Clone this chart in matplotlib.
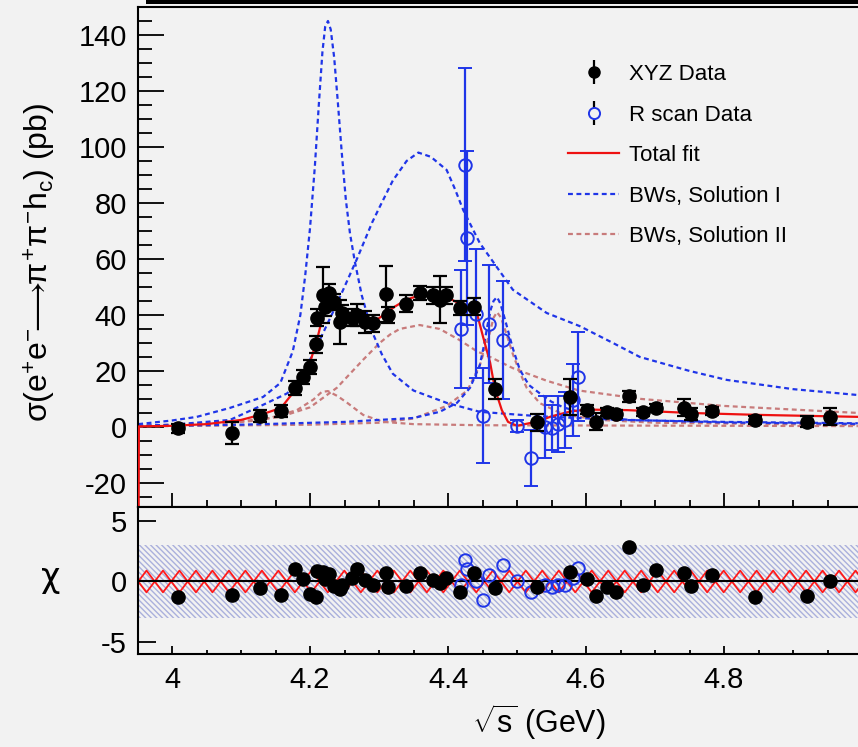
import matplotlib
matplotlib.use('Agg')
import matplotlib.pyplot as plt
import numpy as np
from matplotlib.lines import Line2D
from matplotlib.patches import Rectangle
from matplotlib.legend_handler import HandlerTuple
from matplotlib.ticker import MultipleLocator, FuncFormatter

plt.rcParams['font.family'] = ['Liberation Sans', 'DejaVu Sans']
plt.rcParams['mathtext.fontset'] = 'custom'
plt.rcParams['mathtext.rm'] = 'Liberation Sans'
plt.rcParams['mathtext.it'] = 'Liberation Sans'
plt.rcParams['mathtext.bf'] = 'Liberation Sans:bold'
plt.rcParams['axes.unicode_minus'] = False
plt.rcParams['hatch.linewidth'] = 1.0

# XYZ data: energy, cross section, error, chi
xyz_e = [4.009, 4.087, 4.128, 4.158, 4.178, 4.190, 4.200, 4.208, 4.210, 4.219, 4.222,
         4.228, 4.235, 4.243, 4.247, 4.261, 4.268, 4.280, 4.291, 4.310, 4.313, 4.339,
         4.359, 4.378, 4.388, 4.397, 4.417, 4.438, 4.468, 4.529, 4.577, 4.601, 4.614,
         4.630, 4.643, 4.662, 4.683, 4.701, 4.742, 4.752, 4.783, 4.845, 4.920, 4.954]
xyz_sig = [-0.5, -2.1, 3.9, 5.7, 14.0, 18.0, 21.5, 29.5, 39.0, 47.0, 42.8,
           48.0, 44.6, 37.5, 40.7, 39.0, 40.0, 37.5, 37.0, 47.5, 40.0, 44.0,
           48.0, 47.0, 45.5, 47.0, 42.5, 43.0, 13.5, 1.6, 10.7, 6.2, 1.8,
           5.3, 4.6, 11.0, 5.3, 6.8, 6.8, 4.6, 5.7, 2.5, 1.8, 3.6]
xyz_err = [1.5, 4.0, 2.0, 2.0, 2.5, 2.5, 2.5, 3.0, 3.0, 10.0, 3.0,
           3.0, 3.0, 8.0, 3.0, 3.0, 4.0, 4.0, 3.0, 10.0, 3.0, 3.0,
           2.5, 3.0, 8.5, 3.0, 2.5, 3.0, 3.5, 3.0, 6.5, 1.5, 3.0,
           1.5, 1.5, 2.0, 1.5, 1.5, 3.0, 2.0, 1.5, 1.5, 2.0, 3.0]
xyz_chi = [-1.3, -1.1, -0.55, -1.1, 1.0, 0.2, -1.0, -1.3, 0.9, 0.8, 0.2,
           0.6, -0.4, -0.6, -0.3, 0.3, 1.0, 0.1, -0.3, 0.7, -0.45, -0.4,
           0.7, 0.1, -0.1, 0.3, -0.85, 0.7, -0.55, -0.45, 0.8, 0.2, -1.2,
           -0.45, -0.85, 2.85, -0.3, 0.95, 0.7, -0.4, 0.55, -1.3, -1.2, 0.0]

# R scan data
rs_e = [4.419, 4.424, 4.428, 4.441, 4.450, 4.459, 4.480, 4.500, 4.520, 4.541,
        4.551, 4.560, 4.569, 4.581, 4.589]
rs_sig = [35.0, 93.6, 67.5, 40.5, 4.0, 36.8, 31.0, 0.3, -11.2, 0.0,
          -0.3, 1.0, 2.5, 9.6, 18.0]
rs_err = [21.0, 34.5, 31.0, 23.0, 17.0, 21.0, 21.0, 2.0, 10.0, 11.0,
          8.0, 10.0, 10.0, 13.0, 16.0]
rs_chi = [-0.3, 1.8, 1.0, 0.0, -1.5, 0.55, 1.35, 0.0, -0.9, -0.3,
          -0.45, -0.3, -0.3, 0.3, 1.1]

# total fit
fit_e = [3.9515, 3.952, 4.0, 4.05, 4.1, 4.128, 4.158, 4.178, 4.19, 4.2, 4.21, 4.218,
         4.225, 4.232, 4.24, 4.25, 4.265, 4.28, 4.294, 4.301, 4.323, 4.34, 4.359,
         4.38, 4.398, 4.417, 4.432, 4.442, 4.451, 4.461, 4.468, 4.478, 4.487, 4.5,
         4.519, 4.529, 4.55, 4.577, 4.6, 4.66, 4.75, 4.85, 4.994]
fit_sig = [-40.0, 0.2, 0.4, 1.0, 2.5, 4.3, 6.8, 13.0, 17.5, 23.0, 31.0, 39.0,
           43.0, 45.0, 44.0, 41.5, 39.0, 38.0, 38.0, 39.0, 43.0, 45.5, 47.0,
           47.0, 46.4, 44.0, 43.0, 40.5, 32.0, 23.0, 13.6, 6.0, 1.8, 0.4,
           1.4, 1.8, 3.8, 5.5, 6.2, 6.0, 5.0, 4.3, 3.6]

# Solution I components
s1a_e = [3.951, 4.0, 4.036, 4.084, 4.132, 4.157, 4.175, 4.186, 4.193, 4.2, 4.207,
         4.213, 4.218, 4.222, 4.226, 4.23, 4.235, 4.24, 4.246, 4.252, 4.258, 4.265,
         4.275, 4.29, 4.304, 4.32, 4.35, 4.398, 4.446, 4.533, 4.65, 4.8, 4.994]
s1a_sig = [1.0, 2.3, 3.6, 6.8, 10.7, 15.7, 27.0, 40.0, 54.0, 71.0, 93.0,
           116.0, 134.0, 143.0, 145.0, 142.0, 132.0, 117.0, 98.0, 81.0, 69.0, 59.0,
           47.0, 34.0, 26.0, 19.0, 13.0, 8.6, 5.4, 3.8, 2.5, 1.8, 1.3]
s1b_e = [3.951, 4.0, 4.084, 4.132, 4.167, 4.19, 4.214, 4.239, 4.268, 4.29, 4.301,
         4.32, 4.34, 4.357, 4.375, 4.398, 4.41, 4.422, 4.446, 4.471, 4.494, 4.543,
         4.591, 4.639, 4.678, 4.75, 4.804, 4.9, 4.994]
s1b_sig = [0.4, 0.8, 2.5, 7.9, 12.0, 19.0, 31.0, 44.0, 60.0, 73.0, 78.6,
           88.0, 95.0, 98.0, 96.5, 91.8, 85.0, 77.5, 65.7, 57.0, 49.0, 40.7,
           36.0, 30.0, 25.0, 20.0, 16.8, 13.5, 11.4]
s1c_e = [3.951, 4.1, 4.25, 4.35, 4.388, 4.413, 4.432, 4.446, 4.452, 4.457, 4.462,
         4.466, 4.471, 4.476, 4.483, 4.494, 4.504, 4.517, 4.533, 4.55, 4.567, 4.616,
         4.664, 4.8, 4.994]
s1c_sig = [0.3, 0.8, 1.8, 3.2, 5.4, 8.6, 14.0, 22.0, 29.0, 36.0, 42.0,
           45.0, 46.4, 44.0, 38.0, 28.0, 20.5, 15.0, 12.0, 9.0, 7.0, 3.6,
           2.5, 1.6, 1.1]

# Solution II components
s2a_e = [3.951, 4.084, 4.132, 4.181, 4.205, 4.217, 4.226, 4.24, 4.254, 4.277, 4.306,
         4.35, 4.45, 4.994]
s2a_sig = [0.3, 1.4, 2.5, 6.0, 9.8, 12.5, 12.8, 11.0, 8.6, 4.3, 1.8,
           1.0, 0.6, 0.3]
s2b_e = [3.951, 4.0, 4.1, 4.157, 4.2, 4.239, 4.277, 4.301, 4.316, 4.33, 4.359,
         4.388, 4.417, 4.442, 4.461, 4.494, 4.543, 4.59, 4.68, 4.8, 4.994]
s2b_sig = [0.3, 0.8, 2.0, 3.6, 7.0, 14.0, 24.0, 30.0, 33.0, 35.0, 36.4,
           35.0, 31.0, 27.0, 25.0, 21.0, 16.5, 13.0, 10.0, 7.5, 5.0]
s2c_e = [3.951, 4.2, 4.3, 4.35, 4.398, 4.428, 4.446, 4.455, 4.461, 4.466, 4.471,
         4.477, 4.485, 4.494, 4.504, 4.514, 4.533, 4.567, 4.62, 4.7, 4.994]
s2c_sig = [0.2, 0.8, 1.5, 3.0, 7.5, 13.0, 22.0, 29.0, 34.0, 39.0, 41.0,
           39.0, 33.0, 26.0, 19.5, 14.0, 8.5, 4.5, 2.5, 1.5, 0.7]

# chi bands
band_outer = 3.0
band_inner = 0.9

bg = '#f2f2f2'
blue = '#1f35e8'
pink = '#c87b7b'
red = '#ee1111'

W, H = 858, 747
fig = plt.figure(figsize=(W / 100, H / 100), dpi=100, facecolor=bg)
ax1 = fig.add_axes([138 / W, 1 - 507 / H, 1 - 138 / W, 500 / H], facecolor=bg)
ax2 = fig.add_axes([138 / W, 1 - 654 / H, 1 - 138 / W, 147 / H], facecolor=bg)

xlim = (3.9507, 4.9942)

# ---- top panel
dash = (2.2, 1.6)
for e, s in [(s2a_e, s2a_sig), (s2b_e, s2b_sig), (s2c_e, s2c_sig)]:
    ax1.plot(e, s, color=pink, lw=1.6, dashes=dash, zorder=2)
for e, s in [(s1a_e, s1a_sig), (s1b_e, s1b_sig), (s1c_e, s1c_sig)]:
    ax1.plot(e, s, color=blue, lw=1.6, dashes=dash, zorder=2)
ax1.plot(fit_e, fit_sig, color=red, lw=1.6, zorder=3)

ax1.errorbar(rs_e, rs_sig, yerr=rs_err, fmt='o', ms=9, mfc='none', mec=blue, mew=1.4,
             color=blue, ecolor=blue, elinewidth=1.6, capsize=5, capthick=1.6, zorder=4)
ax1.errorbar(xyz_e, xyz_sig, yerr=xyz_err, fmt='o', ms=9.5, color='black',
             elinewidth=1.6, capsize=5, capthick=1.6, zorder=5)

ax1.set_xlim(*xlim)
ax1.set_ylim(-28.6, 150)
ax1.yaxis.set_major_locator(MultipleLocator(20))
ax1.yaxis.set_minor_locator(MultipleLocator(5))
ax1.xaxis.set_major_locator(MultipleLocator(0.2))
ax1.xaxis.set_minor_locator(MultipleLocator(0.05))
ax1.tick_params(axis='y', which='major', direction='in', length=19, width=1.3, labelsize=21, pad=8)
ax1.tick_params(axis='y', which='minor', direction='in', length=10, width=1.3)
ax1.tick_params(axis='x', which='major', direction='in', length=10, width=1.3, labelbottom=False)
ax1.tick_params(axis='x', which='minor', direction='in', length=5, width=1.3)
ax1.spines['right'].set_visible(False)
for sp in ['left', 'top', 'bottom']:
    ax1.spines[sp].set_linewidth(1.5)

# legend
h_xyz = (Line2D([], [], marker='|', ms=17, mew=1.6, color='black', ls='none'),
         Line2D([], [], marker='o', ms=8, color='black', ls='none'))
h_rs = (Line2D([], [], marker='|', ms=17, mew=1.6, color='black', ls='none'),
        Line2D([], [], marker='o', ms=8, mfc=bg, mec=blue, mew=1.4, ls='none'))
h_fit = Line2D([], [], color=red, lw=1.6)
h_s1 = Line2D([], [], color=blue, lw=1.6, dashes=dash)
h_s2 = Line2D([], [], color=pink, lw=1.6, dashes=dash)
ax1.legend([h_xyz, h_rs, h_fit, h_s1, h_s2],
           ['XYZ Data', 'R scan Data', 'Total fit', 'BWs, Solution I', 'BWs, Solution II'],
           handler_map={tuple: HandlerTuple(ndivide=1)},
           loc='upper left', bbox_to_anchor=(568 / W, 1 - 64 / H), bbox_transform=fig.transFigure,
           frameon=False, fontsize=16, handlelength=2.3, handletextpad=0.45,
           labelspacing=0.88, borderpad=0, borderaxespad=0)

# ---- bottom panel
band3 = Rectangle((0, -band_outer), 1, 2 * band_outer, transform=ax2.get_yaxis_transform(),
                  facecolor='none', edgecolor='#aab0dc', hatch='\\\\\\\\\\\\', lw=0, zorder=1)
if hasattr(band3, 'set_hatch_linewidth'):
    band3.set_hatch_linewidth(1.0)
ax2.add_patch(band3)

# red chain of crosses inside the +-1 sigma band (two zigzags in opposite phase)
pitch = 0.0239
nodes = np.arange(3.9630 - pitch, xlim[1] + pitch, pitch)
zig = np.where(np.arange(len(nodes)) % 2 == 0, -band_inner, band_inner)
ax2.plot(nodes, zig, color='#ff1a1a', lw=1.3, zorder=2)
ax2.plot(nodes, -zig, color='#ff1a1a', lw=1.3, zorder=2)

ax2.axhline(0, color='black', lw=1.5, zorder=3)
ax2.plot(rs_e, rs_chi, 'o', ms=9, mfc='none', mec=blue, mew=1.4, zorder=4)
ax2.plot(xyz_e, xyz_chi, 'o', ms=9.5, color='black', zorder=5)

ax2.set_xlim(*xlim)
ax2.set_ylim(-6.0, 6.16)
ax2.yaxis.set_major_locator(MultipleLocator(5))
ax2.xaxis.set_major_locator(MultipleLocator(0.2))
ax2.xaxis.set_minor_locator(MultipleLocator(0.05))
ax2.xaxis.set_major_formatter(FuncFormatter(lambda v, p: '%g' % round(v, 3)))
ax2.tick_params(axis='y', which='major', direction='in', length=13, width=1.3, labelsize=21, pad=8)
ax2.tick_params(axis='x', which='major', direction='in', length=6, width=1.3, labelsize=21, pad=9)
ax2.tick_params(axis='x', which='minor', direction='in', length=3, width=1.3)
ax2.spines['right'].set_visible(False)
for sp in ['left', 'top', 'bottom']:
    ax2.spines[sp].set_linewidth(1.5)

# axis titles
fig.text(40 / W, 1 - 262 / H,
         r'$\sigma(\mathrm{e}^{+}\mathrm{e}^{-}\!\!\longrightarrow\!\!\pi^{+}\pi^{-}\mathrm{h}_{c})$ (pb)',
         rotation=90, ha='center', va='center', fontsize=23)
fig.text(51 / W, 1 - 578 / H, 'χ', family='DejaVu Sans', ha='center', va='center', fontsize=24)
fig.text(539 / W, 1 - 722 / H, r'$\sqrt{s}$ (GeV)', ha='center', va='center', fontsize=22)

# black bar at top edge
fig.add_artist(Rectangle((146 / W, 1 - 4 / H), (W - 146) / W, 4 / H,
                         transform=fig.transFigure, color='black', lw=0))

fig.savefig('out.png', dpi=100, facecolor=bg)
